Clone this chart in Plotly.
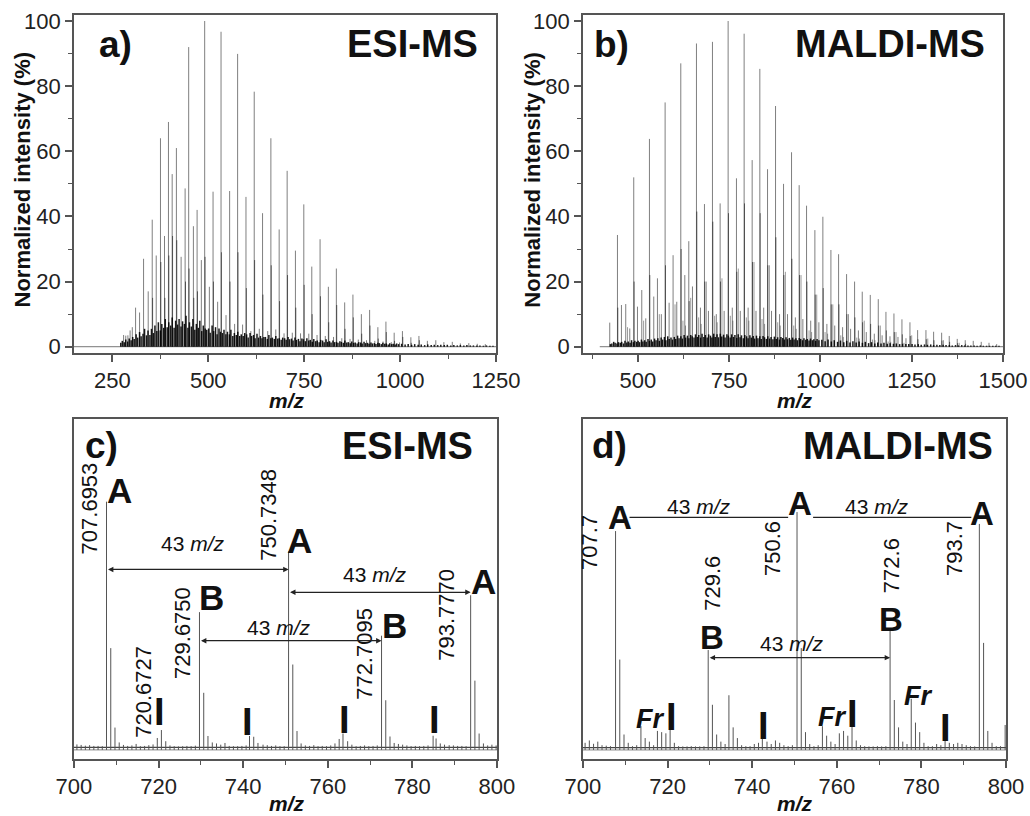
import plotly.graph_objects as go

# ---------------------------------------------------------------------------
# Full-range spectra (normalized intensity, %)
# ---------------------------------------------------------------------------
ESI_SCAN_RANGE = [150.0, 1250.0]
MALDI_SCAN_RANGE = [396.0, 1500.0]

# ESI-MS: resolved peak series
ESI_PEAK_MZ = [279.4, 285.0, 290.6, 296.3, 302.0, 310.6, 321.0, 331.4, 343.5, 354.0,
               364.4, 375.5, 386.0, 396.3, 406.0, 417.0, 429.3, 439.7, 449.0, 461.3,
               470.9, 482.0, 490.7, 502.9, 512.5, 524.5, 533.3, 546.3, 555.7, 568.7,
               576.5, 589.5, 598.3, 611.0, 619.8, 633.0, 641.5, 655.0, 663.2, 676.0,
               684.8, 697.5, 705.6, 719.0, 727.2, 740.5, 749.0, 762.0, 769.8, 783.5,
               791.4, 805.0, 813.0, 826.5, 833.8, 848.0, 855.5, 869.5, 877.0, 891.0,
               899.0, 912.5, 920.5, 934.0, 942.0, 955.5, 963.0, 977.0, 984.5, 998.5,
               1006.0, 1028.0, 1049.0, 1071.0, 1093.0, 1114.0, 1136.0, 1157.0, 1179.0, 1201.0,
               1222.0]
ESI_PEAK_INT = [3.6, 3.4, 3.5, 5.0, 6.0, 12.0, 10.5, 27.0, 17.0, 39.0,
                28.0, 64.0, 34.0, 69.0, 53.0, 61.0, 27.6, 48.6, 92.0, 37.0,
                42.0, 26.6, 100.0, 18.4, 47.6, 13.8, 96.7, 9.7, 47.8, 7.0,
                89.9, 6.8, 46.0, 4.8, 78.3, 5.5, 41.0, 4.8, 64.0, 5.3,
                36.0, 4.1, 54.0, 4.3, 29.5, 4.1, 43.7, 4.0, 24.6, 3.6,
                33.0, 3.3, 18.4, 3.0, 24.0, 2.6, 13.6, 2.4, 16.0, 2.2,
                10.0, 2.0, 11.3, 1.8, 6.0, 1.6, 7.7, 1.4, 4.3, 1.3,
                4.8, 2.9, 3.3, 1.8, 2.0, 1.4, 1.5, 1.0, 1.1, 0.9,
                0.8]

# ESI-MS: first isotope peaks of the main series
ESI_ISO_MZ = [355.0, 376.5, 387.0, 397.3, 407.0, 418.0, 440.7, 450.0, 462.3, 471.9,
              491.7, 513.5, 534.3, 556.7, 577.5, 599.3, 620.8, 642.5, 664.2, 685.8,
              706.6, 728.2, 750.0, 770.8, 792.4, 814.0, 834.8, 856.5, 878.0, 900.0,
              921.5, 943.0, 964.0, 985.5, 1007.0, 1029.0, 1050.0]
ESI_ISO_INT = [15.0, 26.0, 15.0, 28.0, 34.0, 32.7, 20.0, 24.0, 15.0, 17.0,
               27.6, 20.0, 29.0, 20.0, 29.0, 18.0, 26.6, 16.0, 25.0, 14.0,
               22.0, 12.0, 19.0, 10.0, 15.5, 7.5, 12.8, 5.5, 9.0, 4.0,
               6.5, 2.5, 4.5, 1.8, 3.0, 1.2, 2.0]

# ESI-MS: low-level peaks close to the baseline
ESI_MINOR_MZ = [272, 276, 281, 285, 290, 294, 299,
                303, 307, 312, 316, 321, 325, 330, 334, 339, 343, 348,
                352, 357, 361, 366, 370, 375, 379, 384, 388, 393, 397,
                402, 406, 411, 415, 420, 424, 429, 433, 438, 442, 447,
                451, 456, 460, 465, 469, 474, 478, 483, 487, 492, 496,
                501, 505, 510, 514, 519, 523, 528, 532, 537, 541, 546,
                550, 555, 559, 564, 568, 573, 577, 582, 586, 591, 595,
                600, 604, 609, 613, 618, 622, 627, 631, 636, 640, 645,
                649, 654, 658, 663, 667, 672, 676, 681, 685, 690, 694,
                699, 703, 708, 712, 717, 721, 726, 730, 735, 739, 744,
                748, 753, 757, 762, 766, 771, 775, 780, 784, 789, 793,
                798, 802, 807, 811, 816, 820, 825, 829, 834, 838, 843,
                847, 852, 856, 861, 865, 870, 874, 879, 883, 888, 892,
                897, 901, 906, 910, 915, 919, 924, 928, 933, 937, 942,
                946, 951, 955, 960, 964, 969, 973, 978, 982, 987, 991, 996,
                1004, 1013, 1021, 1030, 1038, 1047, 1055, 1064, 1072, 1081, 1089, 1098,
                1106, 1115, 1123, 1132, 1140, 1149, 1157, 1166, 1174, 1183, 1191, 1200,
                1208, 1217, 1225, 1234, 1242]
ESI_MINOR_INT = [1.2, 1.8, 1.4, 2.2, 1.6, 2.5, 2.0,
                 3.0, 2.4, 3.8, 2.8, 4.5, 3.2, 4.0, 5.5, 3.5, 5.0, 3.6,
                 5.5, 4.2, 6.5, 4.8, 7.5, 5.0, 7.0, 5.8, 8.5, 6.0, 7.5,
                 6.5, 9.0, 5.8, 8.0, 6.8, 8.5, 6.2, 7.8, 7.0, 9.5, 5.8,
                 7.5, 6.2, 8.5, 5.2, 7.0, 5.8, 8.0, 4.8, 6.5, 5.6, 5.2,
                 5.6, 4.3, 6.5, 4.8, 6.0, 3.8, 5.6, 4.6, 4.2, 5.2, 3.8,
                 4.6, 3.8, 5.2, 3.3, 4.2, 3.6, 4.6, 3.3, 3.8, 3.3, 4.2,
                 3.8, 2.8, 4.2, 3.3, 3.6, 2.6, 4.0, 2.8, 3.3, 2.6, 3.0,
                 3.0, 2.4, 3.6, 2.6, 2.8, 2.4, 3.3, 2.5, 2.6, 2.1, 2.8,
                 2.6, 2.1, 3.0, 2.3, 2.5, 1.9, 2.8, 2.1, 2.4, 1.7, 2.5,
                 2.3, 1.7, 2.6, 1.9, 2.1, 1.5, 2.4, 1.7, 1.9, 1.4, 2.1,
                 1.9, 1.4, 2.3, 1.5, 1.7, 1.3, 1.9, 1.4, 1.5, 1.2, 1.7,
                 1.5, 1.2, 1.9, 1.3, 1.4, 1.1, 1.6, 1.2, 1.3, 1.0, 1.4,
                 1.3, 1.0, 1.5, 1.1, 1.2, 0.9, 1.3, 1.0, 1.1, 0.8, 1.2,
                 1.1, 0.8, 1.2, 0.9, 1.0, 0.7, 1.1, 0.8, 0.9, 0.7, 1.0, 0.8,
                 0.9, 0.7, 0.8, 0.6, 0.8, 0.6, 0.7, 0.5, 0.7, 0.5, 0.6, 0.5,
                 0.6, 0.5, 0.6, 0.4, 0.5, 0.4, 0.5, 0.4, 0.5, 0.4, 0.4, 0.4,
                 0.4, 0.3, 0.4, 0.3, 0.3]

# MALDI-MS: resolved peak series
MALDI_PEAK_MZ = [423.3, 444.4, 455.3, 467.1, 478.1, 489.0, 499.2, 511.0, 521.9, 532.0,
                 543.8, 553.9, 564.5, 574.9, 585.8, 596.7, 606.8, 617.8, 628.8, 639.7,
                 649.8, 660.7, 671.6, 682.6, 693.5, 704.5, 715.0, 725.5, 736.5, 747.4,
                 758.8, 770.2, 780.7, 791.2, 802.2, 813.2, 823.7, 834.2, 844.8, 855.3,
                 866.2, 877.2, 888.2, 899.1, 910.0, 921.0, 931.5, 941.9, 952.0, 962.1,
                 973.5, 984.9, 995.9, 1006.8, 1017.8, 1028.8, 1039.3, 1049.8, 1060.8, 1071.7,
                 1082.7, 1093.6, 1104.1, 1114.6, 1125.6, 1136.6, 1147.6, 1158.5, 1169.0, 1179.5,
                 1190.5, 1201.4, 1212.4, 1223.3, 1234.3, 1245.2, 1266.2, 1289.0, 1310.0, 1332.0,
                 1352.8, 1374.7, 1396.6, 1418.5, 1440.4, 1461.6, 1482.7]
MALDI_PEAK_INT = [7.4, 34.3, 12.8, 13.1, 5.6, 52.0, 12.3, 17.4, 8.7, 63.8,
                  15.4, 21.0, 10.0, 75.0, 13.5, 28.1, 13.8, 87.0, 22.0, 32.4,
                  18.5, 93.1, 12.0, 43.8, 11.0, 93.6, 10.0, 44.0, 11.0, 100.0,
                  12.0, 51.7, 11.0, 96.1, 12.0, 57.3, 11.0, 85.3, 12.0, 54.5,
                  11.0, 73.9, 10.0, 50.0, 10.0, 59.7, 9.0, 49.6, 8.5, 43.3,
                  8.0, 35.8, 7.5, 39.9, 7.0, 29.7, 6.5, 28.4, 6.0, 22.3,
                  5.5, 20.0, 5.0, 16.9, 4.5, 15.9, 4.0, 14.6, 3.5, 10.7,
                  3.2, 10.2, 3.0, 8.4, 2.6, 7.5, 5.1, 5.1, 4.6, 4.3,
                  3.3, 2.4, 2.0, 1.8, 1.5, 1.2, 0.8]

# MALDI-MS: first isotope peaks of the main series
MALDI_ISO_MZ = [445.4, 490.0, 533.0, 575.9, 618.8, 640.7, 661.7, 683.6, 705.5, 726.5,
                748.4, 771.2, 792.2, 814.2, 835.2, 856.3, 878.2, 900.1, 922.0, 942.9,
                963.1, 985.9, 1007.8, 1029.8, 1050.8, 1072.7, 1094.6, 1115.6, 1137.6, 1159.5,
                1180.5, 1202.4, 1224.3, 1246.2, 1267.2, 1290.0, 1311.0, 1333.0, 1353.8, 1375.7,
                1397.6]
MALDI_ISO_INT = [12.0, 20.0, 22.0, 25.0, 30.0, 14.0, 41.5, 20.0, 38.4, 20.0,
                 41.0, 23.0, 44.0, 26.0, 41.0, 25.0, 33.6, 22.0, 27.0, 22.0,
                 20.0, 16.0, 18.0, 13.0, 13.0, 10.0, 9.0, 7.5, 7.0, 6.5,
                 5.0, 4.5, 3.8, 3.3, 2.3, 2.3, 2.0, 1.9, 1.5, 1.1,
                 0.9]

# MALDI-MS: fragment (Fr) series
MALDI_FR_MZ = [472.0, 516.0, 559.0, 602.0, 645.0, 687.6, 730.5, 775.2, 818.2, 860.3,
               904.1, 947.0, 990.0, 1034.0, 1077.0, 1120.0, 1164.0, 1207.0, 1250.0, 1294.0,
               1337.0, 1380.0]
MALDI_FR_INT = [6.0, 8.0, 10.0, 13.0, 15.0, 20.0, 21.0, 24.0, 26.0, 25.0,
                23.0, 22.0, 16.0, 13.0, 10.0, 8.0, 6.5, 4.5, 3.5, 2.5,
                2.0, 1.2]

# MALDI-MS: weaker side series (A+6 fragments and I series)
MALDI_SIDE_MZ = [623.7, 666.7, 710.5, 753.4, 797.2, 840.2, 883.2, 927.0, 969.0, 1012.8,
                 1055.8, 1099.6, 1142.6, 1185.5, 1229.0,
                 630.7, 673.7, 717.5, 760.4, 804.2, 847.2, 890.2, 934.0, 976.0, 1019.8,
                 1062.8, 1106.6, 1149.6, 1192.5]
MALDI_SIDE_INT = [8.0, 9.0, 9.5, 9.5, 9.0, 8.5, 7.5, 6.5, 5.0, 4.5,
                  3.5, 2.8, 2.2, 1.6, 1.2,
                  6.5, 7.0, 7.5, 8.0, 8.0, 7.0, 6.5, 5.5, 4.5, 4.0,
                  3.0, 2.5, 2.0, 1.5]

# MALDI-MS: low-level peaks close to the baseline
MALDI_MINOR_MZ = [425, 429, 434, 438, 443, 447,
                  452, 456, 461, 465, 470, 474, 479, 483, 488, 492, 497,
                  501, 505, 510, 514, 519, 523, 528, 532, 537, 541, 546,
                  550, 555, 559, 564, 568, 573, 577, 582, 586, 591, 595,
                  600, 604, 609, 613, 618, 622, 627, 631, 636, 640, 645,
                  649, 654, 658, 663, 667, 672, 676, 681, 685, 690, 694,
                  699, 703, 708, 712, 717, 721, 726, 730, 735, 739, 744,
                  748, 753, 757, 762, 766, 771, 775, 780, 784, 789, 793,
                  798, 802, 807, 811, 816, 820, 825, 829, 834, 838, 843,
                  847, 852, 856, 861, 865, 870, 874, 879, 883, 888, 892,
                  897, 901, 906, 910, 915, 919, 924, 928, 933, 937, 942,
                  946, 951, 955, 960, 964, 969, 973, 978, 982, 987, 991, 996,
                  1004, 1013, 1021, 1030, 1038, 1047, 1055, 1064, 1072, 1081, 1089, 1098,
                  1106, 1115, 1123, 1132, 1140, 1149, 1157, 1166, 1174, 1183, 1191, 1200,
                  1208, 1217, 1225, 1234, 1242,
                  1251, 1259, 1268, 1276, 1285, 1293, 1302, 1310, 1319, 1327,
                  1336, 1344, 1353, 1361, 1370, 1378, 1387, 1395, 1404, 1412,
                  1421, 1429, 1438, 1446, 1455, 1463, 1472, 1480, 1489]
MALDI_MINOR_INT = [0.8, 1.0, 1.5, 1.2, 1.0, 1.4,
                   1.2, 1.5, 1.0, 1.8, 1.3, 1.6, 1.2, 2.0, 1.4, 1.8, 1.5,
                   1.8, 1.4, 2.2, 1.6, 2.0, 1.5, 2.4, 1.8, 2.2, 1.6, 2.5,
                   2.0, 2.6, 1.8, 2.8, 2.2, 3.0, 2.0, 3.2, 2.4, 2.8, 2.2,
                   3.0, 2.4, 3.4, 2.6, 3.2, 2.5, 3.6, 2.8, 3.4, 2.6, 3.6,
                   3.2, 2.8, 3.8, 3.0, 3.6, 2.8, 4.0, 3.0, 3.6, 2.8, 3.8,
                   3.4, 2.8, 4.0, 3.0, 3.8, 2.9, 4.0, 3.1, 3.7, 2.8, 3.8,
                   3.4, 2.8, 3.8, 3.0, 3.6, 2.7, 3.8, 2.9, 3.5, 2.6, 3.6,
                   3.2, 2.6, 3.5, 2.8, 3.3, 2.5, 3.4, 2.6, 3.2, 2.4, 3.3,
                   2.9, 2.4, 3.2, 2.5, 3.0, 2.3, 3.1, 2.4, 2.9, 2.2, 3.0,
                   2.7, 2.2, 2.9, 2.3, 2.7, 2.1, 2.8, 2.2, 2.6, 2.0, 2.7,
                   2.4, 2.0, 2.6, 2.1, 2.4, 1.9, 2.5, 2.0, 2.3, 1.8, 2.4, 2.0,
                   2.1, 1.7, 2.2, 1.6, 2.0, 1.5, 1.9, 1.4, 1.8, 1.3, 1.7, 1.3,
                   1.6, 1.2, 1.5, 1.1, 1.4, 1.0, 1.3, 1.0, 1.2, 0.9, 1.1, 0.9,
                   1.0, 0.8, 0.9, 0.8, 0.8,
                   0.8, 0.7, 0.8, 0.6, 0.7, 0.6, 0.7, 0.5, 0.6, 0.5,
                   0.6, 0.5, 0.5, 0.4, 0.5, 0.4, 0.5, 0.4, 0.4, 0.4,
                   0.4, 0.3, 0.4, 0.3, 0.3, 0.3, 0.3, 0.3, 0.3]

# ---------------------------------------------------------------------------
# Expanded 700-800 m/z window (relative intensity)
# ---------------------------------------------------------------------------
ZOOM_NOISE_FLOOR = 1.0

ESI_ZOOM_MZ = [700.7, 701.7, 702.7, 703.7, 704.7, 705.7, 706.7, 707.6953, 708.70, 709.70,
               710.70, 711.7, 712.7, 713.7, 714.7, 715.7, 716.7, 717.7, 718.7, 719.7,
               720.6727, 721.7, 722.7, 723.7, 724.7, 725.7, 726.7, 727.7, 728.7, 729.6750,
               730.68, 731.68, 732.7, 733.7, 734.7, 735.7, 736.7, 737.7, 738.7, 739.7,
               740.7, 741.5, 742.5, 743.5, 744.7, 745.7, 746.7, 747.7, 748.7, 749.7,
               750.7348, 751.73, 752.73, 753.7, 754.7, 755.7, 756.7, 757.7, 758.7, 759.7,
               760.7, 761.7, 762.7, 763.6, 764.7, 765.7, 766.7, 767.7, 768.7, 769.7,
               770.7, 771.7, 772.7095, 773.71, 774.71, 775.7, 776.7, 777.7, 778.7, 779.7,
               780.7, 781.7, 782.7, 783.7, 784.9, 785.6, 786.6, 787.6, 788.7, 789.7,
               790.7, 791.7, 792.7, 793.7770, 794.78, 795.78, 796.8, 797.8, 798.8, 799.8]
ESI_ZOOM_INT = [2.2, 2.0, 1.7, 1.9, 1.6, 1.6, 1.5, 100.0, 41.0, 9.0,
                3.0, 2.0, 1.6, 1.8, 2.4, 1.5, 1.6, 1.9, 2.2, 4.8,
                8.0, 3.5, 1.8, 1.5, 1.4, 1.5, 1.6, 1.5, 1.7, 55.5,
                23.0, 5.6, 3.0, 2.6, 2.1, 2.8, 1.6, 1.5, 1.5, 1.6,
                1.8, 5.6, 5.3, 2.8, 2.1, 1.9, 1.6, 1.8, 1.5, 1.5,
                80.0, 34.4, 7.6, 2.6, 1.8, 1.6, 1.9, 1.5, 1.6, 1.5,
                1.8, 2.6, 4.4, 6.6, 3.5, 2.1, 1.5, 1.6, 1.8, 1.5,
                1.6, 1.8, 46.0, 20.0, 5.4, 2.8, 2.4, 2.1, 1.8, 1.5,
                1.6, 1.5, 1.6, 1.8, 5.7, 4.6, 2.6, 2.1, 1.9, 1.8,
                1.6, 1.6, 1.5, 62.3, 27.9, 6.6, 2.6, 1.8, 2.1, 1.8]

MALDI_ZOOM_MZ = [700.5, 701.5, 702.5, 703.5, 704.5, 705.5, 706.5, 707.7, 708.7, 709.7,
                 710.7, 711.7, 712.7, 713.7, 714.7, 715.7, 716.7, 717.6, 718.6, 719.6,
                 720.6, 721.6, 722.6, 723.6, 724.6, 725.6, 726.6, 727.6, 728.6, 729.6,
                 730.6, 731.6, 732.6, 733.6, 734.5, 735.5, 736.5, 737.5, 738.5, 739.5,
                 740.5, 741.5, 742.4, 743.5, 744.5, 745.5, 746.5, 747.5, 748.5, 749.5,
                 750.6, 751.6, 752.6, 753.6, 754.6, 755.6, 756.6, 757.6, 758.6, 759.6,
                 760.6, 761.6, 762.6, 763.6, 764.6, 765.6, 766.6, 767.6, 768.6, 769.6,
                 770.6, 771.6, 772.6, 773.6, 774.6, 775.6, 776.6, 777.6, 778.6, 779.6,
                 780.6, 781.6, 782.6, 783.6, 784.6, 785.6, 786.6, 787.6, 788.6, 789.6,
                 790.6, 791.6, 792.6, 793.7, 794.7, 795.7, 796.7, 797.7, 798.7, 799.8]
MALDI_ZOOM_INT = [3.0, 4.0, 2.6, 3.5, 2.0, 1.8, 1.6, 92.0, 38.0, 6.5,
                  3.0, 1.6, 2.0, 10.0, 5.0, 3.5, 2.0, 8.0, 7.5, 7.0,
                  9.0, 3.0, 1.6, 1.5, 1.5, 1.6, 1.5, 1.5, 1.6, 42.0,
                  19.0, 6.5, 3.5, 2.5, 23.0, 9.5, 5.0, 2.0, 1.6, 1.6,
                  2.5, 3.0, 5.0, 3.5, 2.5, 4.0, 3.0, 2.0, 1.6, 2.0,
                  100.0, 42.8, 7.5, 2.5, 1.6, 2.0, 10.0, 6.0, 3.5, 2.5,
                  7.0, 8.0, 6.0, 14.5, 4.0, 2.0, 1.6, 1.5, 1.5, 1.6,
                  1.5, 1.6, 50.0, 21.0, 9.5, 3.5, 2.5, 21.5, 11.5, 7.5,
                  3.0, 1.6, 1.6, 2.5, 2.0, 5.0, 3.0, 2.5, 3.0, 2.5,
                  2.0, 1.6, 1.5, 95.0, 45.0, 8.0, 3.0, 1.6, 1.6, 10.5]

# Assigned peaks in the expanded window
ESI_A_MZ = [707.6953, 750.7348, 793.7770]
ESI_B_MZ = [729.6750, 772.7095]
ESI_I_MZ = [720.6727]
MALDI_A_MZ = [707.7, 750.6, 793.7]
MALDI_B_MZ = [729.6, 772.6]

FONT = "Arial, 'Liberation Sans', sans-serif"
FRAME = "#555555"
TXT = "#111111"


def sticks(mz, inten):
    xs, ys = [], []
    for m, h in zip(mz, inten):
        xs += [m, m, None]
        ys += [0, h, None]
    return xs, ys


def add_sticks(fig, mz, inten, xa, ya, color, width):
    xs, ys = sticks(mz, inten)
    fig.add_trace(go.Scatter(x=xs, y=ys, mode="lines", xaxis=xa, yaxis=ya,
                             line=dict(color=color, width=width),
                             hoverinfo="skip", showlegend=False))


def add_level(fig, rng, level, xa, ya, color, width=1, dash="solid"):
    fig.add_trace(go.Scatter(x=list(rng), y=[level, level], mode="lines", xaxis=xa, yaxis=ya,
                             line=dict(color=color, width=width, dash=dash),
                             hoverinfo="skip", showlegend=False))


fig = go.Figure()

# a) ESI full range
add_level(fig, ESI_SCAN_RANGE, 0, "x", "y", "#777777")
add_sticks(fig, ESI_MINOR_MZ, ESI_MINOR_INT, "x", "y", "rgba(0,0,0,0.9)", 1.5)
add_sticks(fig, ESI_PEAK_MZ, ESI_PEAK_INT, "x", "y", "rgba(0,0,0,0.5)", 1)
add_sticks(fig, ESI_ISO_MZ, ESI_ISO_INT, "x", "y", "rgba(0,0,0,0.55)", 1)

# b) MALDI full range
add_level(fig, MALDI_SCAN_RANGE, 0, "x2", "y2", "#777777")
add_sticks(fig, MALDI_MINOR_MZ, MALDI_MINOR_INT, "x2", "y2", "rgba(0,0,0,0.9)", 1.5)
add_sticks(fig, MALDI_SIDE_MZ, MALDI_SIDE_INT, "x2", "y2", "rgba(0,0,0,0.4)", 1)
add_sticks(fig, MALDI_FR_MZ, MALDI_FR_INT, "x2", "y2", "rgba(0,0,0,0.4)", 1)
add_sticks(fig, MALDI_PEAK_MZ, MALDI_PEAK_INT, "x2", "y2", "rgba(0,0,0,0.5)", 1)
add_sticks(fig, MALDI_ISO_MZ, MALDI_ISO_INT, "x2", "y2", "rgba(0,0,0,0.55)", 1)

# c) ESI 700-800
add_level(fig, [700, 800], 0, "x3", "y3", "#888888")
add_level(fig, [700, 800], ZOOM_NOISE_FLOOR, "x3", "y3", "#444444", 1.2)
add_sticks(fig, ESI_ZOOM_MZ, ESI_ZOOM_INT, "x3", "y3", "#555555", 1)

# d) MALDI 700-800
add_level(fig, [700, 800], 0, "x4", "y4", "#888888")
add_level(fig, [700, 800], ZOOM_NOISE_FLOOR, "x4", "y4", "#444444", 1.2)
add_sticks(fig, MALDI_ZOOM_MZ, MALDI_ZOOM_INT, "x4", "y4", "#555555", 1)

axis_common = dict(showline=True, mirror=True, linecolor=FRAME, linewidth=1.5,
                   showgrid=False, zeroline=False, ticks="outside", ticklen=7,
                   tickwidth=1.5, tickcolor=FRAME, automargin=False,
                   tickfont=dict(family=FONT, size=22, color="#222222"))
minor_ticks = dict(ticklen=4, ticks="outside", tickcolor=FRAME, tickwidth=1.2)

XA = [0.0718, 0.4816]
XB = [0.5660, 0.9738]
XC = [0.0718, 0.4825]
XD = [0.5660, 0.9767]
Y_TOP = [0.5674, 0.9816]
Y_BOT = [0.0699, 0.4865]

fig.update_layout(
    width=1030, height=816, margin=dict(l=0, r=0, t=0, b=0, autoexpand=False),
    paper_bgcolor="white", plot_bgcolor="white", showlegend=False,
    font=dict(family=FONT, color=TXT),
    xaxis=dict(domain=XA, anchor="y", range=[150, 1250], tick0=250, dtick=250,
               minor=dict(dtick=125, **minor_ticks), **axis_common),
    yaxis=dict(domain=Y_TOP, anchor="x", range=[-1.93, 101.84], tick0=0, dtick=20,
               minor=dict(dtick=10, **minor_ticks), **axis_common),
    xaxis2=dict(domain=XB, anchor="y2", range=[350, 1500], tick0=500, dtick=250,
                minor=dict(dtick=125, **minor_ticks), **axis_common),
    yaxis2=dict(domain=Y_TOP, anchor="x2", range=[-1.93, 101.84], tick0=0, dtick=20,
                minor=dict(dtick=10, **minor_ticks), **axis_common),
    xaxis3=dict(domain=XC, anchor="y3", range=[700, 800], tick0=700, dtick=20,
                minor=dict(dtick=10, **minor_ticks), **axis_common),
    xaxis4=dict(domain=XD, anchor="y4", range=[700, 800], tick0=700, dtick=20,
                minor=dict(dtick=10, **minor_ticks), **axis_common),
)
axis_plain = dict(axis_common)
axis_plain.update(ticks="", showticklabels=False)
fig.update_layout(
    yaxis3=dict(domain=Y_BOT, anchor="x3", range=[-3.65, 133.3], **axis_plain),
    yaxis4=dict(domain=Y_BOT, anchor="x4", range=[-3.78, 139.1], **axis_plain),
)

ann = []


def paper_text(text, x, y, size, xanchor="center", angle=0):
    ann.append(dict(text=text, x=x, y=y, xref="paper", yref="paper", showarrow=False,
                    xanchor=xanchor, yanchor="middle", textangle=angle,
                    font=dict(family=FONT, size=size, color=TXT)))


def data_text(text, x, y, xa, ya, size, xanchor="center", angle=0, color=TXT):
    ann.append(dict(text=text, x=x, y=y, xref=xa, yref=ya, showarrow=False,
                    xanchor=xanchor, yanchor="middle", textangle=angle,
                    font=dict(family=FONT, size=size, color=color)))


def double_arrow(x0, x1, y, xa, ya):
    ann.append(dict(text="", x=x1, y=y, ax=x0, ay=y, xref=xa, yref=ya, axref=xa, ayref=ya,
                    showarrow=True, arrowhead=2, startarrowhead=2, arrowside="end+start",
                    arrowsize=0.9, startarrowsize=0.9, arrowwidth=1.2, arrowcolor="#222222",
                    standoff=0, startstandoff=0))


# panel tags and method names
paper_text("<b>a)</b>", 0.1117, 0.946, 37)
paper_text("<b>ESI-MS</b>", 0.466, 0.946, 38, xanchor="right")
paper_text("<b>b)</b>", 0.5937, 0.946, 37)
paper_text("<b>MALDI-MS</b>", 0.9583, 0.946, 38, xanchor="right")
paper_text("<b>c)</b>", 0.0981, 0.454, 37)
paper_text("<b>ESI-MS</b>", 0.4612, 0.454, 38, xanchor="right")
paper_text("<b>d)</b>", 0.5922, 0.454, 37)
paper_text("<b>MALDI-MS</b>", 0.966, 0.454, 38, xanchor="right")

# axis titles
paper_text("<b>Normalized intensity (%)</b>", 0.0218, 0.7794, 22, angle=-90)
paper_text("<b>Normalized intensity (%)</b>", 0.5162, 0.7794, 22, angle=-90)
for xt, yt in [(0.2786, 0.5086), (0.7718, 0.5086), (0.2786, 0.0159), (0.7718, 0.0159)]:
    paper_text("<b><i>m/z</i></b>", xt, yt, 21)

MZ43 = "43 <i>m/z</i>"

# ---- c) ESI annotations
a1, a2, a3 = ESI_A_MZ
b1, b2 = ESI_B_MZ
i1 = ESI_I_MZ[0]
data_text(f"{a1:.4f}", a1 - 0.7, 97.3, "x3", "y3", 22, xanchor="right", angle=-90)
data_text(f"{a2:.4f}", a2 - 1.5, 94.6, "x3", "y3", 22, xanchor="right", angle=-90)
data_text(f"{a3:.4f}", a3 - 2.2, 54.4, "x3", "y3", 22, xanchor="right", angle=-90)
data_text(f"{b1:.4f}", b1 - 0.6, 47.3, "x3", "y3", 22, xanchor="right", angle=-90)
data_text(f"{b2:.4f}", b2 - 0.6, 38.9, "x3", "y3", 22, xanchor="right", angle=-90)
data_text(f"{i1:.4f}", i1 - 0.7, 23.4, "x3", "y3", 22, xanchor="right", angle=-90)
data_text("<b>A</b>", 710.7, 104.4, "x3", "y3", 35)
data_text("<b>A</b>", 753.3, 84.5, "x3", "y3", 35)
data_text("<b>A</b>", 796.7, 67.9, "x3", "y3", 35)
data_text("<b>B</b>", 732.5, 61.2, "x3", "y3", 35)
data_text("<b>B</b>", 775.8, 50.0, "x3", "y3", 35)
for xi, yi in [(720.3, 15.3), (741.0, 11.2), (763.9, 12.2), (785.3, 12.2)]:
    data_text("<b>I</b>", xi, yi, "x3", "y3", 38)
data_text(MZ43, 728.1, 83.1, "x3", "y3", 21)
data_text(MZ43, 771.1, 70.6, "x3", "y3", 21)
data_text(MZ43, 748.4, 49.4, "x3", "y3", 21)
double_arrow(a1, a2, 72.7, "x3", "y3")
double_arrow(a2, a3, 63.5, "x3", "y3")
double_arrow(b1, b2, 44.0, "x3", "y3")

# ---- d) MALDI annotations
m1, m2, m3 = MALDI_A_MZ
n1, n2 = MALDI_B_MZ
data_text(f"{m1:.1f}", m1 - 2.7, 87.3, "x4", "y4", 22, xanchor="right", angle=-90)
data_text(f"{m2:.1f}", m2 - 2.4, 84.6, "x4", "y4", 22, xanchor="right", angle=-90)
data_text(f"{m3:.1f}", m3 - 2.3, 84.5, "x4", "y4", 22, xanchor="right", angle=-90)
data_text(f"{n1:.1f}", n1 + 1.1, 70.2, "x4", "y4", 22, angle=-90)
data_text(f"{n2:.1f}", n2 + 0.3, 77.4, "x4", "y4", 22, angle=-90)
data_text("<b>A</b>", 708.7, 97.7, "x4", "y4", 33)
data_text("<b>A</b>", 751.3, 103.4, "x4", "y4", 33)
data_text("<b>A</b>", 794.4, 99.2, "x4", "y4", 33)
data_text("<b>B</b>", 730.6, 47.4, "x4", "y4", 33)
data_text("<b>B</b>", 772.9, 55.0, "x4", "y4", 33)
data_text(MZ43, 727.5, 102.3, "x4", "y4", 21)
data_text(MZ43, 769.6, 102.3, "x4", "y4", 21)
data_text(MZ43, 749.4, 44.8, "x4", "y4", 21)
double_arrow(n1, n2, 38.8, "x4", "y4")
for xi, yi in [(715.8, 13.1), (758.9, 13.8), (779.3, 22.6)]:
    data_text("<b><i>Fr</i></b>", xi, yi, "x4", "y4", 27)
for xi, yi in [(720.9, 13.8), (742.6, 9.9), (763.8, 15.2), (785.7, 9.2)]:
    data_text("<b>I</b>", xi, yi, "x4", "y4", 38)

fig.update_layout(annotations=ann)

# connector lines between A labels in d)
fig.update_layout(shapes=[
    dict(type="line", xref="x4", yref="y4", x0=711.0, x1=748.5, y0=97.8, y1=97.8,
         line=dict(color="#222222", width=1.2)),
    dict(type="line", xref="x4", yref="y4", x0=754.4, x1=791.8, y0=97.8, y1=97.8,
         line=dict(color="#222222", width=1.2)),
])

fig.write_html("out.html")
